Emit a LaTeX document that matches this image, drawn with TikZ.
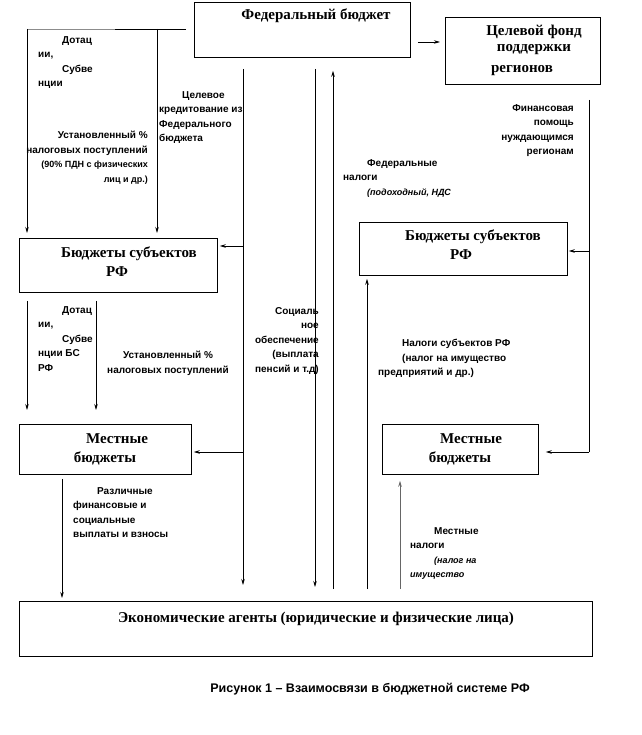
\documentclass[tikz,border=0pt]{standalone}
\usepackage{fontspec}
\setmainfont{Liberation Serif}
\newfontfamily\labfont{Liberation Sans}
\usetikzlibrary{arrows.meta}
\tikzset{
  box/.style={draw, line width=0.8pt, inner sep=0pt, anchor=north west},
  btext/.style={font=\fontsize{15}{18}\selectfont\bfseries, inner sep=0pt},
  lab/.style={font=\labfont\bfseries\fontsize{10}{14.6}\selectfont, inner sep=0pt, align=left, anchor=north west},
  labr/.style={lab, align=right, anchor=north east},
  ln/.style={line width=0.7pt},
  arr/.style={ln, -{Stealth[length=6pt,width=3.5pt]}},
}
\newcommand{\sm}{\fontsize{9}{14.6}\selectfont}
\newcommand{\ind}{\hspace*{24pt}}
\begin{document}
\begin{tikzpicture}[x=1pt,y=-1pt]
\useasboundingbox (0,0) rectangle (641,735);
% boxes
\node[box, minimum width=216pt, minimum height=55pt] (fed) at (194,2) {};
\node[box, minimum width=155pt, minimum height=67pt] (fund) at (445,17) {};
\node[box, minimum width=198pt, minimum height=54pt] (sl) at (19,238) {};
\node[box, minimum width=208pt, minimum height=53pt] (sr) at (359,222) {};
\node[box, minimum width=172pt, minimum height=50pt] (ll) at (19,424) {};
\node[box, minimum width=156pt, minimum height=50pt] (lr) at (382,424) {};
\node[box, minimum width=573pt, minimum height=55pt] (ag) at (19,601) {};
% box texts
\node[btext] (tfed) at (316,16) {Федеральный бюджет};
\node[btext] (tfund1) at (534,32) {Целевой фонд};
\node[btext] (tfund2) at (534,50) {поддержки};
\node[btext] (tfund3) at (522,71) {регионов};
\node[btext] (tsl1) at (129,254) {Бюджеты субъектов};
\node[btext] (tsl2) at (117,272) {РФ};
\node[btext] (tsr1) at (473,237) {Бюджеты субъектов};
\node[btext] (tsr2) at (461,255) {РФ};
\node[btext] (tll1) at (117,439) {Местные};
\node[btext] (tll2) at (105,458) {бюджеты};
\node[btext] (tlr1) at (471,439) {Местные};
\node[btext] (tlr2) at (460,458) {бюджеты};
\node[btext] (tag) at (316,619) {Экономические агенты (юридические и физические лица)};
% labels
\node[lab] (l1) at (38,36) {\ind Дотац\\ии,\\\ind Субве\\нции};
\node[labr] (l2) at (148,131) {Установленный \%\\налоговых поступлений\\{\sm (90\% ПДН с физических}\\{\sm лиц и др.)}};
\node[lab] (l3) at (159,91) {\hspace*{23pt}Целевое\\кредитование из\\Федерального\\бюджета};
\node[lab] (l4) at (343,159) {\ind Федеральные\\налоги\\\ind{\sm\itshape (подоходный, НДС}};
\node[labr] (l5) at (574,104) {Финансовая\\помощь\\нуждающимся\\регионам};
\node[lab] (l6) at (38,306) {\ind Дотац\\ии,\\\ind Субве\\нции БС\\РФ};
\node[lab, align=center, anchor=north] (l7) at (168,351) {Установленный \%\\налоговых поступлений};
\node[labr] (l8) at (319,307) {Социаль\\ное\\обеспечение\\(выплата\\пенсий и т.д)};
\node[lab] (l9) at (378,339) {\ind Налоги субъектов РФ\\\ind (налог на имущество\\предприятий и др.)};
\node[lab] (l10) at (73,487) {\ind Различные\\финансовые и\\социальные\\выплаты и взносы};
\node[lab] (l11) at (410,527) {\ind Местные\\налоги\\\ind{\sm\itshape (налог на}\\{\sm\itshape имущество}};
\node[font=\labfont\bfseries\fontsize{12.5}{14}\selectfont, inner sep=0pt] (cap) at (370,689) {Рисунок 1 – Взаимосвязи в бюджетной системе РФ};
% junction coordinates
\coordinate (jtop) at (186,29);
\coordinate (jg) at (115,29);
\coordinate (jl) at (27,29);
\coordinate (jm) at (157,29);
\coordinate (v1) at (243,69);
\coordinate (v2) at (315,69);
\coordinate (j1) at (243,246);
\coordinate (j2) at (243,452);
\coordinate (r0) at (589,100);
\coordinate (r1) at (589,251);
\coordinate (r2) at (589,452);
% connectors
\draw[ln] (jtop) -- (jg);
\draw[ln, black!45] (jg) -- (jl);
\draw[arr] (jl) -- ([yshift=5pt]sl.north -| jl);
\draw[arr] (jm) -- ([yshift=5pt]sl.north -| jm);
\draw[arr] ([xshift=7pt]fed.east |- 0,42) -- ([xshift=-5pt]fund.west |- 0,42);
\draw[arr] (v1) -- ([yshift=16pt]ag.north -| v1);
\draw[arr] (j1) -- ([xshift=2pt]sl.east |- j1);
\draw[arr] (j2) -- ([xshift=2pt]ll.east |- j2);
\draw[arr] (v2) -- ([yshift=14pt]ag.north -| v2);
\draw[arr] ([yshift=12pt]ag.north -| 333,0) -- ([yshift=-13pt]fed.south -| 333,0);
\draw[arr] ([yshift=12pt]ag.north -| 367,0) -- ([yshift=-3pt]sr.south -| 367,0);
\draw[arr, black!60] ([yshift=12pt]ag.north -| 400,0) -- ([yshift=-6pt]lr.south -| 400,0);
\draw[ln] (r0) -- (r2);
\draw[arr] (r1) -- ([xshift=1pt]sr.east |- r1);
\draw[arr] (r2) -- ([xshift=7pt]lr.east |- r2);
\draw[arr] ([yshift=-8pt]sl.south -| 27,0) -- ([yshift=14pt]ll.north -| 27,0);
\draw[arr] ([yshift=-8pt]sl.south -| 96,0) -- ([yshift=14pt]ll.north -| 96,0);
\draw[arr] ([yshift=-4pt]ll.south -| 62,0) -- ([yshift=3pt]ag.north -| 62,0);
\end{tikzpicture}
\end{document}
